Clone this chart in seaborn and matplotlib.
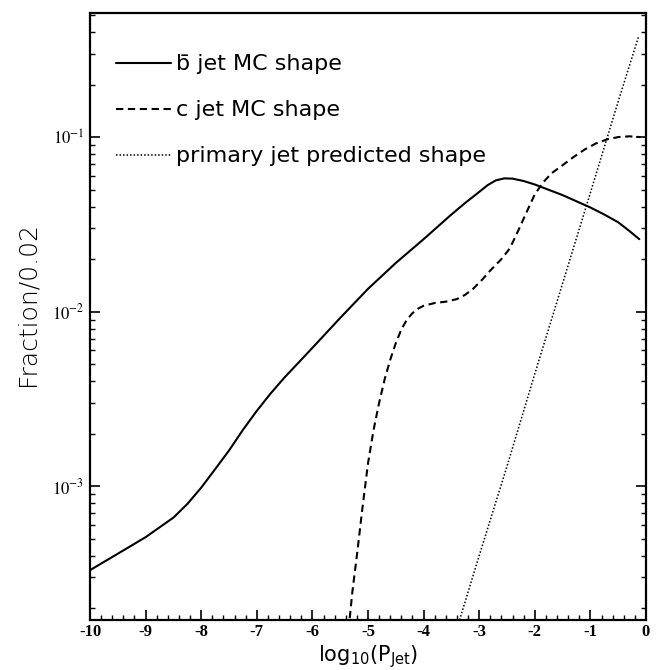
import matplotlib
matplotlib.use("Agg")
import matplotlib.pyplot as plt
import seaborn as sns
import pandas as pd
from matplotlib.ticker import FixedLocator, MultipleLocator, LogLocator, NullFormatter, FuncFormatter

# ---- data ----
bbar_x = [-10.0, -9.5, -9.0, -8.5, -8.25, -8.0, -7.75, -7.5, -7.25, -7.0, -6.75, -6.5, -6.25,
          -6.0, -5.5, -5.0, -4.5, -4.0, -3.5, -3.25, -3.0, -2.85, -2.7, -2.55, -2.4, -2.2,
          -2.0, -1.5, -1.0, -0.75, -0.5, -0.3, -0.12]
bbar_y = [3.3e-4, 4.1e-4, 5.1e-4, 6.6e-4, 7.9e-4, 9.8e-4, 1.25e-3, 1.6e-3, 2.1e-3, 2.7e-3,
          3.4e-3, 4.2e-3, 5.1e-3, 6.2e-3, 9.2e-3, 1.35e-2, 1.9e-2, 2.6e-2, 3.6e-2, 4.2e-2,
          4.85e-2, 5.3e-2, 5.65e-2, 5.8e-2, 5.78e-2, 5.6e-2, 5.35e-2, 4.65e-2, 3.95e-2,
          3.6e-2, 3.25e-2, 2.9e-2, 2.6e-2]

c_x = [-5.35, -5.28, -5.2, -5.1, -5.0, -4.9, -4.8, -4.7, -4.6, -4.5, -4.4, -4.3, -4.2, -4.1,
       -4.0, -3.8, -3.6, -3.4, -3.25, -3.1, -2.95, -2.8, -2.6, -2.45, -2.3, -2.15, -2.0,
       -1.85, -1.7, -1.5, -1.3, -1.1, -0.9, -0.7, -0.5, -0.3, -0.1]
c_y = [1.5e-4, 2.5e-4, 4.0e-4, 7.5e-4, 1.35e-3, 2.1e-3, 3.0e-3, 4.1e-3, 5.3e-3, 6.6e-3,
       7.9e-3, 9.0e-3, 9.8e-3, 1.04e-2, 1.08e-2, 1.12e-2, 1.14e-2, 1.18e-2, 1.25e-2,
       1.36e-2, 1.52e-2, 1.72e-2, 2.0e-2, 2.3e-2, 2.9e-2, 3.7e-2, 4.7e-2, 5.5e-2, 6.2e-2,
       6.9e-2, 7.7e-2, 8.5e-2, 9.2e-2, 9.7e-2, 0.100, 0.101, 0.100]

prim_x = [-3.5, -3.0, -2.5, -2.0, -1.5, -1.0, -0.5, -0.13]
prim_y = [1.2e-4, 4.0e-4, 1.3e-3, 4.4e-3, 1.45e-2, 4.8e-2, 0.16, 0.38]

series_labels = ["b\u0304 jet MC shape", "c jet MC shape", "primary jet predicted shape"]
x_ticks = [-10, -9, -8, -7, -6, -5, -4, -3, -2, -1, 0]
y_ticks = [1e-3, 1e-2, 1e-1]
y_tick_labels = ["$10^{-3}$", "$10^{-2}$", "$10^{-1}$"]

# ---- style ----
sns.set_theme(style="ticks")
plt.rcParams["axes.unicode_minus"] = False
plt.rcParams["font.family"] = ["DejaVu Sans"]
plt.rcParams["mathtext.fontset"] = "stix"

fig = plt.figure(figsize=(6.61, 6.70), dpi=100)
W, H = 661, 670
ax = fig.add_axes([90 / W, 1 - 620 / H, (646 - 90) / W, (620 - 13) / H])

df_b = pd.DataFrame({"x": bbar_x, "y": bbar_y})
df_c = pd.DataFrame({"x": c_x, "y": c_y})
df_p = pd.DataFrame({"x": prim_x, "y": prim_y})

sns.lineplot(data=df_b, x="x", y="y", ax=ax, color="black", lw=1.5,
             estimator=None, sort=False, label=series_labels[0])
sns.lineplot(data=df_c, x="x", y="y", ax=ax, color="black", lw=1.5,
             linestyle=(0, (3.5, 2.2)), estimator=None, sort=False, label=series_labels[1])
sns.lineplot(data=df_p, x="x", y="y", ax=ax, color="black", lw=1.1,
             linestyle=(0, (1, 1.3)), estimator=None, sort=False, label=series_labels[2])

ax.set_yscale("log")
ax.set_xlim(-10, 0)
ax.set_ylim(1.71e-4, 0.514)

# ticks
ax.xaxis.set_major_locator(FixedLocator(x_ticks))
ax.xaxis.set_minor_locator(MultipleLocator(0.2))
ax.set_xticklabels([str(t) for t in x_ticks])
ax.yaxis.set_major_locator(FixedLocator(y_ticks))
ax.yaxis.set_major_formatter(FuncFormatter(
    lambda v, p: y_tick_labels[y_ticks.index(min(y_ticks, key=lambda t: abs(t - v)))]))
ax.yaxis.set_minor_locator(LogLocator(base=10, subs=range(2, 10)))
ax.yaxis.set_minor_formatter(NullFormatter())

ax.tick_params(axis="both", which="major", direction="in", length=7, width=1.2,
               color="black", labelsize=12, labelcolor="black")
ax.tick_params(axis="both", which="minor", direction="in", length=3.5, width=1.0, color="black")
ax.tick_params(axis="y", which="both", right=True)
ax.tick_params(axis="x", which="major", pad=3)
ax.tick_params(axis="y", which="major", pad=4)
for lbl in ax.get_xticklabels() + ax.get_yticklabels():
    lbl.set_fontfamily("Liberation Serif")
    lbl.set_fontweight("bold")

for s in ax.spines.values():
    s.set_visible(True)
    s.set_color("black")
    s.set_linewidth(1.6)

ax.set_xlabel("log$_{\\mathrm{10}}$(P$_{\\mathrm{Jet}}$)", fontsize=15, color="black",
              math_fontfamily="dejavusans")
ax.xaxis.set_label_coords(0.5, -0.039)
ax.set_ylabel("Fraction/0.02", fontsize=18, color="black", fontweight="light")
ax.yaxis.set_label_coords(-0.09, 0.52)

leg = ax.legend(loc="upper left", frameon=False, handlelength=2.45, handletextpad=0.25,
                labelspacing=1.17, borderaxespad=1.0, bbox_to_anchor=(-0.009, 0.983),
                prop={"family": "DejaVu Sans", "size": 16})
for t in leg.get_texts():
    t.set_color("black")

ax.set_facecolor("white")
fig.patch.set_facecolor("white")
fig.savefig("out.png", dpi=100)
